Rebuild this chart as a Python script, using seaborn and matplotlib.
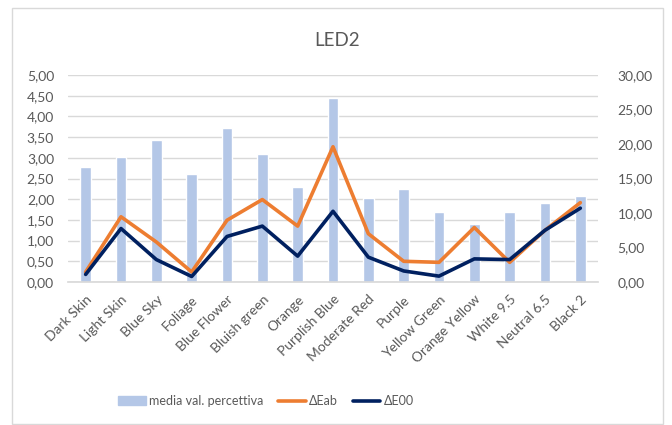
import numpy as np
import pandas as pd
import matplotlib
matplotlib.use("Agg")
import matplotlib.pyplot as plt
import seaborn as sns
from matplotlib.patches import Rectangle
from matplotlib.lines import Line2D
from matplotlib.ticker import FuncFormatter, MultipleLocator

categories = ["Dark Skin", "Light Skin", "Blue Sky", "Foliage", "Blue Flower",
              "Bluish green", "Orange", "Purplish Blue", "Moderate Red", "Purple",
              "Yellow Green", "Orange Yellow", "White 9.5", "Neutral 6.5", "Black 2"]
media_percettiva = [2.78, 3.03, 3.43, 2.62, 3.73, 3.09, 2.29, 4.44, 2.04, 2.24,
                    1.68, 1.39, 1.68, 1.92, 2.08]
delta_eab = [1.45, 9.45, 5.8, 1.45, 8.95, 11.95, 8.1, 19.6, 7.0, 3.0,
             2.85, 7.9, 2.85, 7.5, 11.5]
delta_e00 = [1.1, 7.75, 3.25, 0.8, 6.6, 8.1, 3.75, 10.25, 3.6, 1.6,
             0.85, 3.35, 3.25, 7.5, 10.7]

BAR = "#B4C7E7"
ORANGE = "#ED7D31"
NAVY = "#002060"
GRID = "#D9D9D9"
TXT = "#595959"

sns.set_theme(style="white")
plt.rcParams["font.family"] = ["Lato", "DejaVu Sans"]

df = pd.DataFrame({"cat": categories, "media": media_percettiva,
                   "eab": delta_eab, "e00": delta_e00})
df["pos"] = np.arange(len(df))

fig = plt.figure(figsize=(6.72, 4.25), dpi=100)
ax = fig.add_axes([68 / 672, 1 - 282 / 425, (598 - 68) / 672, (282 - 75) / 425])

sns.barplot(data=df, x="cat", y="media", color=BAR, width=0.31, ax=ax,
            saturation=1, zorder=2)
ax.set_ylim(0, 5)
ax.yaxis.set_major_locator(MultipleLocator(0.5))
comma = FuncFormatter(lambda v, p: f"{v:.2f}".replace(".", ","))
ax.yaxis.set_major_formatter(comma)
ax.grid(axis="y", color=GRID, linewidth=1, zorder=0)
ax.set_axisbelow(True)
ax.set_xlabel("")
ax.set_ylabel("")
for s in ax.spines.values():
    s.set_visible(False)
ax.spines["bottom"].set_visible(True)
ax.spines["bottom"].set_color(GRID)
ax.tick_params(axis="y", colors=TXT, labelsize=10, length=0, pad=10)
ax.tick_params(axis="x", colors=TXT, labelsize=10, length=0, pad=8)
plt.setp(ax.get_xticklabels(), rotation=45, ha="right", rotation_mode="anchor")
ax.set_xlim(-0.5, len(categories) - 0.5)

ax2 = ax.twinx()
sns.lineplot(data=df, x="pos", y="eab", color=ORANGE, linewidth=2.6, ax=ax2)
sns.lineplot(data=df, x="pos", y="e00", color=NAVY, linewidth=2.6, ax=ax2)
ax2.set_ylim(0, 30)
ax2.set_xlim(-0.5, len(categories) - 0.5)
ax2.yaxis.set_major_locator(MultipleLocator(5))
ax2.yaxis.set_major_formatter(comma)
ax2.set_ylabel("")
ax2.set_xlabel("")
for s in ax2.spines.values():
    s.set_visible(False)
ax2.tick_params(axis="y", colors=TXT, labelsize=10, length=0, pad=14)
ax2.grid(False)

fig.text(337 / 672, 1 - 40 / 425, "LED2", ha="center", va="center",
         fontsize=13.5, color=TXT)

handles = [Rectangle((0, 0), 1, 1, color=BAR),
           Line2D([], [], color=ORANGE, linewidth=2.6),
           Line2D([], [], color=NAVY, linewidth=2.6)]
fig.legend(handles, ["media val. percettiva", "\u0394Eab", "\u0394E00"],
           loc="center", bbox_to_anchor=(266 / 672, 1 - 401 / 425), ncol=3,
           frameon=False, fontsize=9, labelcolor=TXT, handlelength=2.2,
           handletextpad=0.25, columnspacing=1.2)

fig.patches.append(Rectangle((12 / 672, 1 / 425), (663 - 12) / 672, (417 - 1) / 425,
                             transform=fig.transFigure, fill=False,
                             edgecolor="#D9D9D9", linewidth=1))

fig.savefig("out.png", dpi=100, facecolor="white")
